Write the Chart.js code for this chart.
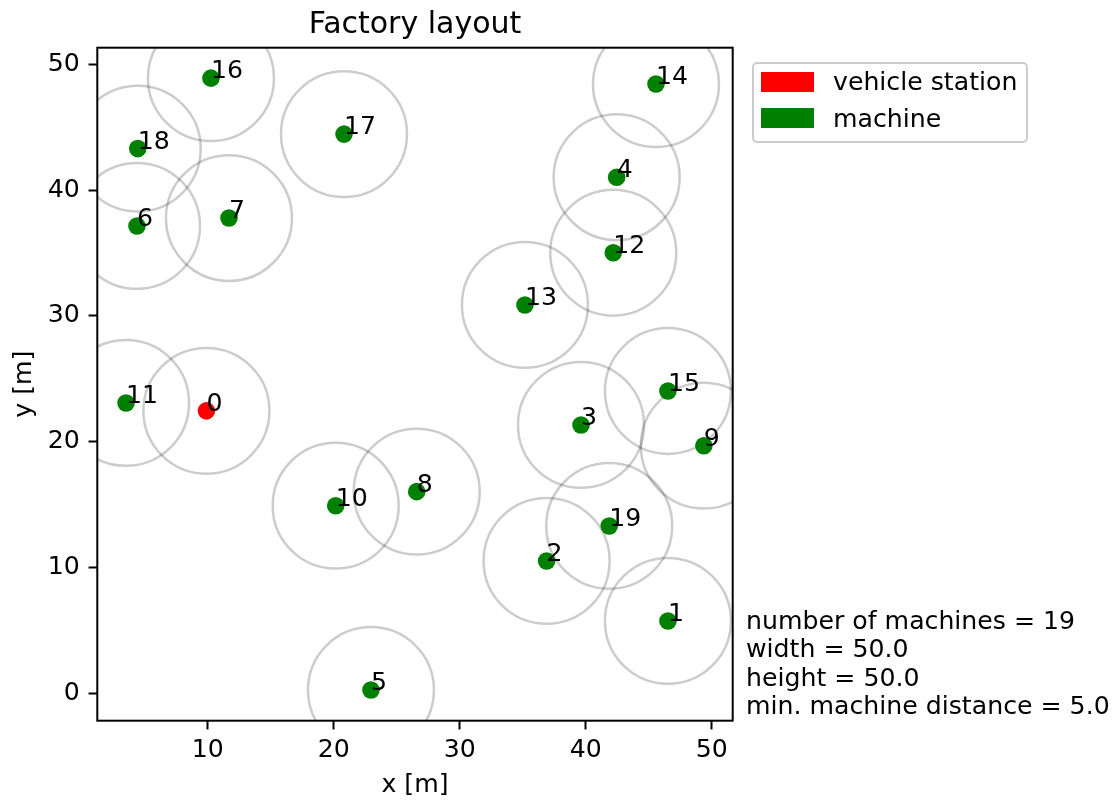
<!DOCTYPE html>
<html>
<head>
<meta charset="utf-8">
<title>Factory layout</title>
<script src="https://cdn.jsdelivr.net/npm/chart.js@4.4.1/dist/chart.umd.min.js"></script>
<style>
  html, body { margin: 0; padding: 0; background: #ffffff; }
  #wrap { position: relative; width: 1118px; height: 802px; overflow: hidden;
          font-family: "DejaVu Sans", sans-serif; color: #000; }
  #plot { position: absolute; left: 0; top: 0; }
  .txt { position: absolute; white-space: nowrap; font-size: 25.2px; }
  #title { position: absolute; left: 97.3px; width: 635.4px; top: 4.9px; text-align: center;
           font-size: 30px; line-height: 36px; white-space: nowrap; }
  #legend { position: absolute; left: 752px; top: 62px; width: 272px; height: 77px;
            border: 2px solid #cccccc; border-radius: 5px; background: rgba(255,255,255,0.8); }
  .swatch { position: absolute; width: 53px; height: 20px; }
  #notes { position: absolute; left: 746px; top: 607.2px; font-size: 25.2px; line-height: 28.3px;
           white-space: nowrap; }
</style>
</head>
<body>
<div id="wrap">
  <canvas id="plot" width="1118" height="802"></canvas>
  <div id="title">Factory layout</div>
  <div id="legend"></div>
  <div id="notes"></div>
</div>
<script>
// Vehicle station position
const stationIds = [0];
const stationX = [9.9];
const stationY = [22.45];

// Machine positions [m]
const machineIds = [1, 2, 3, 4, 5, 6, 7, 8, 9, 10, 11, 12, 13, 14, 15, 16, 17, 18, 19];
const machineX = [46.53, 36.90, 39.63, 42.46, 22.96, 4.39, 11.69, 26.59, 49.38, 20.16,
                  3.52, 42.19, 35.18, 45.58, 46.53, 10.26, 20.82, 4.45, 41.87];
const machineY = [5.75, 10.52, 21.33, 41.02, 0.26, 37.15, 37.78, 16.03, 19.68, 14.91,
                  23.08, 35.02, 30.87, 48.43, 24.03, 48.90, 44.45, 43.30, 13.30];

// Layout parameters
const layoutWidth = 50.0;
const layoutHeight = 50.0;
const minMachineDistance = 5.0;

// Axis ranges and ticks
const xRange = [1.24, 51.67];
const yRange = [-2.18, 51.32];
const xTicks = [10, 20, 30, 40, 50];
const yTicks = [0, 10, 20, 30, 40, 50];

// Legend entries
const legendLabels = ['vehicle station', 'machine'];
const legendColors = ['#ff0000', '#008000'];

const FONT = '"DejaVu Sans", sans-serif';

function toPoints(xs, ys, ids) {
  return xs.map((x, i) => ({ x: x, y: ys[i], id: ids[i] }));
}

// Keep-out circles of radius minMachineDistance around every point
const zonePlugin = {
  id: 'zones',
  beforeDatasetsDraw(chart) {
    const { ctx, chartArea, scales } = chart;
    const xs = scales.x, ys = scales.y;
    ctx.save();
    ctx.beginPath();
    ctx.rect(chartArea.left, chartArea.top, chartArea.right - chartArea.left, chartArea.bottom - chartArea.top);
    ctx.clip();
    ctx.strokeStyle = 'rgba(0,0,0,0.2)';
    ctx.lineWidth = 2.5;
    chart.data.datasets.forEach(ds => {
      ds.data.forEach(p => {
        const cx = xs.getPixelForValue(p.x);
        const cy = ys.getPixelForValue(p.y);
        const rx = Math.abs(xs.getPixelForValue(p.x + minMachineDistance) - cx);
        const ry = Math.abs(ys.getPixelForValue(p.y + minMachineDistance) - cy);
        ctx.beginPath();
        ctx.ellipse(cx, cy, rx, ry, 0, 0, Math.PI * 2);
        ctx.stroke();
      });
    });
    ctx.restore();
  }
};

// Full rectangular frame round the plot area, then point id labels on top
const framePlugin = {
  id: 'frameAndIds',
  afterDatasetsDraw(chart) {
    const { ctx, chartArea } = chart;
    ctx.save();
    ctx.strokeStyle = '#000';
    ctx.lineWidth = 2;
    ctx.strokeRect(chartArea.left, chartArea.top, chartArea.right - chartArea.left, chartArea.bottom - chartArea.top);
    ctx.fillStyle = '#000';
    ctx.font = '25.2px ' + FONT;
    ctx.textAlign = 'left';
    ctx.textBaseline = 'alphabetic';
    chart.data.datasets.forEach((ds, di) => {
      const meta = chart.getDatasetMeta(di);
      meta.data.forEach((el, i) => {
        ctx.fillText(String(ds.data[i].id), el.x, el.y);
      });
    });
    ctx.restore();
  }
};

function fixedTicks(values) {
  return function (scale) { scale.ticks = values.map(v => ({ value: v })); };
}

const tickFont = { family: FONT, size: 25.2 };

new Chart(document.getElementById('plot'), {
  type: 'scatter',
  data: {
    datasets: [
      {
        label: legendLabels[0],
        data: toPoints(stationX, stationY, stationIds),
        backgroundColor: legendColors[0],
        borderWidth: 0,
        pointRadius: 8.8,
        pointHoverRadius: 8.8
      },
      {
        label: legendLabels[1],
        data: toPoints(machineX, machineY, machineIds),
        backgroundColor: legendColors[1],
        borderWidth: 0,
        pointRadius: 8.8,
        pointHoverRadius: 8.8
      }
    ]
  },
  options: {
    responsive: false,
    animation: false,
    devicePixelRatio: 1,
    layout: { padding: { left: 0, top: 47.7, right: 385.3, bottom: 0 } },
    plugins: {
      legend: { display: false },
      title: { display: false },
      tooltip: { enabled: false }
    },
    scales: {
      x: {
        type: 'linear',
        min: xRange[0],
        max: xRange[1],
        afterBuildTicks: fixedTicks(xTicks),
        afterFit(scale) { scale.height = 81.3; },
        grid: { drawOnChartArea: false, drawTicks: true, tickLength: 8.75, tickWidth: 2, tickColor: '#000' },
        border: { display: false },
        ticks: { color: '#000', font: tickFont, padding: 6, maxRotation: 0 },
        title: { display: true, text: 'x [m]', color: '#000', font: tickFont, padding: { top: 0, bottom: 1 } }
      },
      y: {
        type: 'linear',
        min: yRange[0],
        max: yRange[1],
        afterBuildTicks: fixedTicks(yTicks),
        afterFit(scale) { scale.width = 97.3; },
        grid: { drawOnChartArea: false, drawTicks: true, tickLength: 8.75, tickWidth: 2, tickColor: '#000' },
        border: { display: false },
        ticks: { color: '#000', font: tickFont, padding: 8.75 },
        title: { display: true, text: 'y [m]', color: '#000', font: tickFont, padding: { top: 9, bottom: 0 } }
      }
    }
  },
  plugins: [zonePlugin, framePlugin]
});

// Legend: colour patches with labels
const legend = document.getElementById('legend');
const legendBaselines = [90.5, 127.2];
legendLabels.forEach((lab, i) => {
  const sw = document.createElement('div');
  sw.className = 'swatch';
  sw.style.background = legendColors[i];
  sw.style.left = (761 - 754) + 'px';
  sw.style.top = (legendBaselines[i] - 19 - 64) + 'px';
  legend.appendChild(sw);
  const t = document.createElement('div');
  t.className = 'txt';
  t.style.left = (833 - 754) + 'px';
  t.style.lineHeight = '30px';
  t.style.top = (legendBaselines[i] - 23.65 - 64) + 'px';
  t.textContent = lab;
  legend.appendChild(t);
});

// Layout summary
document.getElementById('notes').innerHTML = [
  'number of machines = ' + machineIds.length,
  'width = ' + layoutWidth.toFixed(1),
  'height = ' + layoutHeight.toFixed(1),
  'min. machine distance = ' + minMachineDistance.toFixed(1)
].join('<br>');
</script>
</body>
</html>
